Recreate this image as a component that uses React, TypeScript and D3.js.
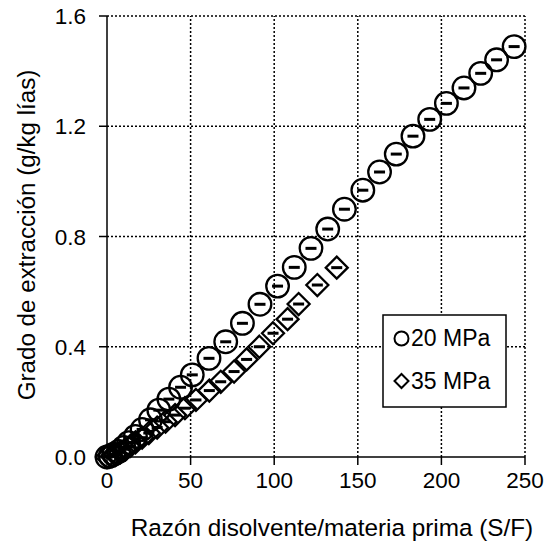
import React from "react";
import * as d3 from "d3";

const sf20 = [0, 2, 4, 7, 10, 13, 17, 21, 26, 31, 37, 44, 51, 61, 71, 81, 91.5, 102, 112, 122, 132, 142, 153, 163, 173, 183, 193, 203, 213.5, 223.5, 233, 243.5];
const y20 = [0, 0.004, 0.01, 0.02, 0.035, 0.052, 0.075, 0.1, 0.135, 0.17, 0.21, 0.253, 0.298, 0.358, 0.418, 0.485, 0.554, 0.62, 0.688, 0.757, 0.827, 0.899, 0.968, 1.034, 1.099, 1.164, 1.225, 1.283, 1.339, 1.392, 1.441, 1.489];
const sf35 = [0, 3, 5, 8, 11, 14, 17, 21, 25, 30, 35, 40.7, 46.6, 53.2, 61.2, 68, 76, 83.5, 91.1, 99.3, 108, 114.6, 125.8, 137.4];
const y35 = [0, 0.003, 0.008, 0.017, 0.028, 0.04, 0.053, 0.07, 0.087, 0.107, 0.128, 0.152, 0.177, 0.207, 0.241, 0.273, 0.31, 0.354, 0.4, 0.449, 0.5, 0.555, 0.624, 0.687];
const xTicks = [0, 50, 100, 150, 200, 250];
const yTicks = [0, 0.4, 0.8, 1.2, 1.6];
const seriesNames = ["20 MPa", "35 MPa"];

const W = 556, H = 544;
const M = { left: 107, right: 525, top: 16, bottom: 457 };
const FONT = "'Liberation Sans', Arial, sans-serif";

export default function App() {
  const x = d3.scaleLinear().domain([0, 250]).range([M.left, M.right]);
  const y = d3.scaleLinear().domain([0, 1.6]).range([M.bottom, M.top]);
  const pts20 = sf20.map((v, i) => [x(v), y(y20[i])]);
  const pts35 = sf35.map((v, i) => [x(v), y(y35[i])]);
  const diamond = (cx: number, cy: number, r: number) =>
    `M${cx},${cy - r}L${cx + r},${cy}L${cx},${cy + r}L${cx - r},${cy}Z`;
  const dash = 5.5;

  return (
    <svg width={W} height={H} style={{ position: "absolute", left: 0, top: 0, background: "#fff" }} fontFamily={FONT}>
      <rect width={W} height={H} fill="#fff" />
      {/* gridlines */}
      {xTicks.filter((t) => t > 0).map((t) => (
        <line key={"gx" + t} x1={x(t)} x2={x(t)} y1={y(0)} y2={y(1.6)} stroke="#000" strokeWidth={1.5} strokeDasharray="2,2" />
      ))}
      {yTicks.filter((t) => t > 0).map((t) => (
        <line key={"gy" + t} x1={x(0)} x2={x(250)} y1={y(t)} y2={y(t)} stroke="#000" strokeWidth={1.5} strokeDasharray="2,2" />
      ))}
      {/* axes */}
      <line x1={x(0)} x2={x(0)} y1={y(0) + 1} y2={y(1.6)} stroke="#000" strokeWidth={1.5} />
      <line x1={x(0) - 1} x2={x(250)} y1={y(0)} y2={y(0)} stroke="#000" strokeWidth={1.5} />
      {yTicks.map((t) => (
        <g key={"yt" + t}>
          <line x1={x(0) - 8} x2={x(0)} y1={y(t)} y2={y(t)} stroke="#000" strokeWidth={1.5} />
          <text x={x(0) - 21} y={y(t)} dy="0.36em" textAnchor="end" fontSize={22.5}>{t.toFixed(1)}</text>
        </g>
      ))}
      {xTicks.map((t) => (
        <g key={"xt" + t}>
          <line x1={x(t)} x2={x(t)} y1={y(0)} y2={y(0) + 8} stroke="#000" strokeWidth={1.5} />
          <text x={x(t)} y={488} textAnchor="middle" fontSize={22.5}>{t}</text>
        </g>
      ))}
      <text x={332} y={536} textAnchor="middle" fontSize={24.3}>Razón disolvente/materia prima (S/F)</text>
      <text transform={`translate(35,235) rotate(-90)`} textAnchor="middle" fontSize={24.2}>Grado de extracción (g/kg lías)</text>

      {/* 35 MPa diamonds */}
      {pts35.map(([cx, cy], i) => (
        <g key={"d" + i}>
          <path d={diamond(cx, cy, 11)} fill="none" stroke="#000" strokeWidth={2.3} />
          <line x1={cx - dash} x2={cx + dash} y1={cy} y2={cy} stroke="#000" strokeWidth={3} />
        </g>
      ))}
      {/* 20 MPa circles */}
      {pts20.map(([cx, cy], i) => (
        <g key={"c" + i}>
          <circle cx={cx} cy={cy} r={11.3} fill="none" stroke="#000" strokeWidth={2.3} />
          <line x1={cx - dash} x2={cx + dash} y1={cy} y2={cy} stroke="#000" strokeWidth={3} />
        </g>
      ))}

      {/* legend */}
      <rect x={383} y={315} width={123} height={92} fill="#fff" stroke="#000" strokeWidth={1.5} />
      <circle cx={401.5} cy={338.5} r={7} fill="none" stroke="#000" strokeWidth={2} />
      <text x={411} y={346} fontSize={23}>{seriesNames[0]}</text>
      <path d={diamond(401.5, 381, 7)} fill="none" stroke="#000" strokeWidth={2} />
      <text x={411} y={389} fontSize={23}>{seriesNames[1]}</text>
    </svg>
  );
}
